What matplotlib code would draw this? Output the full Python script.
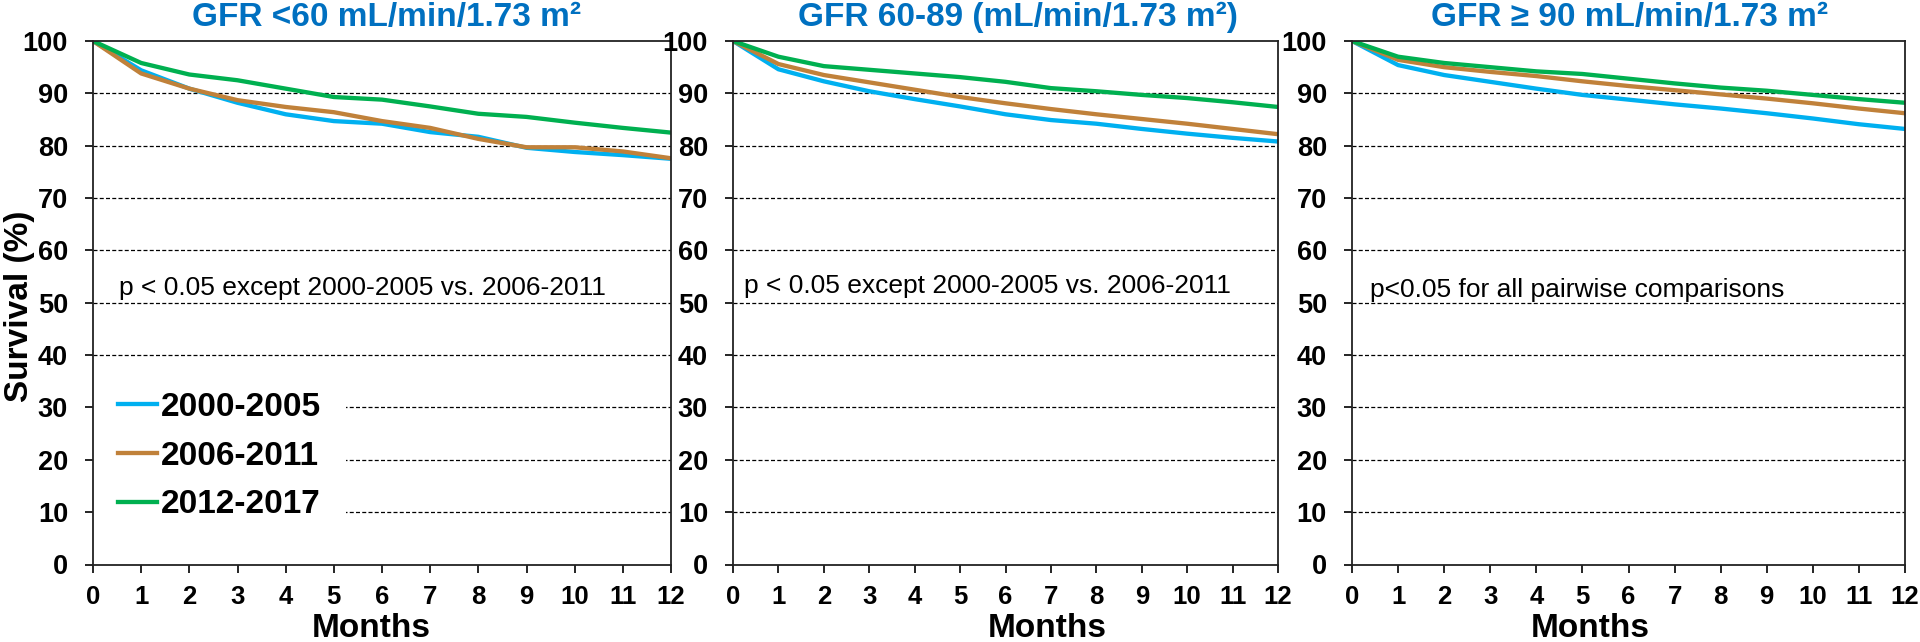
import matplotlib
matplotlib.use("Agg")
import matplotlib.pyplot as plt
from matplotlib import font_manager

plt.rcParams['font.family'] = ['Liberation Sans', 'DejaVu Sans']

months = list(range(13))
series_labels = ["2000-2005", "2006-2011", "2012-2017"]
series_colors = ["#00B0F0", "#C0813A", "#00B050"]

titles = ["GFR <60 mL/min/1.73 m²",
          "GFR 60-89 (mL/min/1.73 m²)",
          "GFR ≥ 90 mL/min/1.73 m²"]
notes = ["p < 0.05 except 2000-2005 vs. 2006-2011",
         "p < 0.05 except 2000-2005 vs. 2006-2011",
         "p<0.05 for all pairwise comparisons"]

# GFR <60
p1_2000 = [100, 94.4, 90.9, 88.2, 86.0, 84.7, 84.2, 82.6, 81.7, 79.6, 78.8, 78.2, 77.5]
p1_2006 = [100, 93.8, 90.9, 88.7, 87.4, 86.4, 84.7, 83.4, 81.3, 79.7, 79.7, 78.9, 77.6]
p1_2012 = [100, 95.8, 93.6, 92.5, 90.9, 89.3, 88.8, 87.5, 86.1, 85.5, 84.4, 83.4, 82.5]
# GFR 60-89
p2_2000 = [100, 94.6, 92.3, 90.4, 88.9, 87.5, 86.0, 84.9, 84.2, 83.2, 82.3, 81.5, 80.8]
p2_2006 = [100, 95.6, 93.5, 92.1, 90.7, 89.3, 88.1, 87.0, 86.0, 85.1, 84.2, 83.2, 82.2]
p2_2012 = [100, 97.0, 95.2, 94.5, 93.8, 93.1, 92.2, 91.0, 90.4, 89.7, 89.1, 88.3, 87.4]
# GFR >=90
p3_2000 = [100, 95.4, 93.5, 92.2, 90.9, 89.7, 88.8, 87.9, 87.1, 86.2, 85.2, 84.1, 83.2]
p3_2006 = [100, 96.4, 95.0, 94.1, 93.3, 92.3, 91.4, 90.6, 89.8, 89.0, 88.1, 87.1, 86.2]
p3_2012 = [100, 97.0, 95.8, 95.0, 94.2, 93.7, 92.8, 91.9, 91.1, 90.5, 89.7, 88.9, 88.2]

panels = [[p1_2000, p1_2006, p1_2012],
          [p2_2000, p2_2006, p2_2012],
          [p3_2000, p3_2006, p3_2012]]

# condensed bold font for y tick labels if available
names = {f.name for f in font_manager.fontManager.ttflist}
if "Liberation Sans Narrow" in names:
    ytick_family, ytick_size = "Liberation Sans Narrow", 21
else:
    ytick_family, ytick_size = "Liberation Sans", 19.5

W, H = 1920, 642
fig = plt.figure(figsize=(W / 100, H / 100), dpi=100)

xext = [(93, 671), (733, 1278), (1352, 1905)]
ytop, ybot = 41, 564.5
title_cx = [387, 1018, 1630]
months_cx = [371, 1047, 1590]
note_pos = [(0.54, 51.5), (0.24, 51.9), (0.39, 51.1)]

axes = []
for i, (l, r) in enumerate(xext):
    ax = fig.add_axes([l / W, (H - ybot) / H, (r - l) / W, (ybot - ytop) / H])
    axes.append(ax)
    ax.set_xlim(0, 12)
    ax.set_ylim(0, 100)
    ax.set_xticks(range(0, 13))
    ax.set_yticks(range(0, 101, 10))
    for yv in range(10, 100, 10):
        ax.axhline(yv, color="black", lw=0.9, dashes=(3.2, 1.8), zorder=1)
    for s in ax.spines.values():
        s.set_color("#222222")
        s.set_linewidth(1.3)
        s.set_zorder(6)
    ax.tick_params(axis="x", direction="out", length=6, width=1.2, pad=9,
                   labelsize=18.5)
    ax.tick_params(axis="y", direction="out", length=6, width=1.2, pad=12,
                   labelsize=ytick_size)
    for lab in ax.get_xticklabels():
        lab.set_fontweight("bold")
    for lab in ax.get_yticklabels():
        lab.set_fontweight("bold")
        lab.set_family(ytick_family)
    for vals, lab, col in zip(panels[i], series_labels, series_colors):
        ax.plot(months, vals, color=col, lw=3.1, label=lab, zorder=3,
                solid_joinstyle="round")
    ax.text(note_pos[i][0], note_pos[i][1], notes[i], fontsize=19,
            ha="left", va="baseline", zorder=4)
    fig.text(title_cx[i] / W, 1 - 26 / H, titles[i], color="#0070C0",
             fontsize=24, fontweight="bold", ha="center", va="baseline")
    fig.text(months_cx[i] / W, (H - 637) / H, "Months", fontsize=24,
             fontweight="bold", ha="center", va="baseline")

leg = axes[0].legend(loc="center left", bbox_to_anchor=(0, 0.207),
                     borderaxespad=0, borderpad=0.75, frameon=True,
                     facecolor="white", edgecolor="none", framealpha=1,
                     fancybox=False, handlelength=1.18, handletextpad=0.12,
                     labelspacing=0.53, prop={"size": 24, "weight": "bold"})
leg.set_zorder(5)

fig.text(20 / W, 1 - 306 / H, "Survival (%)", rotation=90, fontsize=24,
         fontweight="bold", ha="center", va="center")

fig.savefig("out.png", dpi=100)
